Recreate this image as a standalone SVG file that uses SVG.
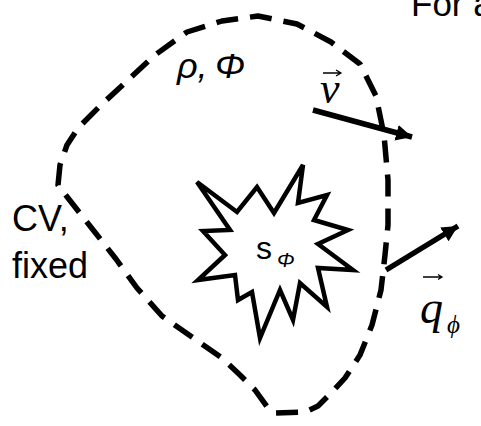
<svg xmlns="http://www.w3.org/2000/svg" width="481" height="426" viewBox="0 0 481 426">
<style>
.sans{font-family:"Liberation Sans",Arial,sans-serif;fill:#000}
.serif{font-family:"Liberation Serif","Times New Roman",serif;font-style:italic;fill:#000}
.cv{fill:none;stroke:#000;stroke-width:5.5;stroke-dasharray:22 12;stroke-linejoin:round}
.vec{fill:none;stroke:#000;stroke-width:5.5}
.small{fill:none;stroke:#000;stroke-width:1.3}
</style>
<defs>
<marker id="ah" markerUnits="userSpaceOnUse" markerWidth="20" markerHeight="20" refX="16" refY="8" orient="auto">
<path d="M0,0 L16,8 L0,16 Z" fill="#000"/>
</marker>
</defs>
<rect width="481" height="426" fill="#fff"/>
<g id="title"><text class="sans" x="411" y="16" font-size="35">For a</text></g>
<g id="cv">
<path class="cv" d="M58,185 L60,165 L67,145 L78,128 L100,106 L128,80 L155,55 L187,32 L222,21 L258,16 L297,24 L331,42 L360,64 L376,96 L384,135 L388,180 L388,225 L385,255 L381,290 L372,325 L360,355 L345,378 L332,392 L318,406 L305,412 L275,413 L268,408 L255,390 L240,375 L222,358 L192,337 L162,316 L137,288 L116,259 L90,226 L68,198 Z"/>
</g>
<g id="cv-label">
<text class="sans" x="12" y="231" font-size="36">CV,</text>
<text class="sans" x="12" y="278" font-size="36">fixed</text>
</g>
<g id="rho-phi">
<text class="sans" x="177" y="78" font-size="36" font-style="italic">ρ,</text>
<text class="sans" x="215" y="78" font-size="36" font-style="italic">Φ</text>
</g>
<g id="source">
<polygon points="197,182 237,212 257,187 274,213 303,165 298,203 327,195 314,220 348,230 318,244 353,270 318,268 327,307 300,283 293,320 280,290 260,338 252,292 238,300 235,275 198,280 225,255 203,231 230,230" fill="#fff" stroke="#000" stroke-width="4.5" stroke-linejoin="miter"/>
<text class="sans" x="256" y="259" font-size="32">s</text>
<text class="sans" x="277" y="267" font-size="21" font-style="italic">Φ</text>
</g>
<g id="connectors">
<line class="vec" x1="313" y1="110" x2="412" y2="137" marker-end="url(#ah)"/>
<line class="vec" x1="386" y1="270" x2="458" y2="226" marker-end="url(#ah)"/>
</g>
<g id="v-label">
<text class="serif" x="320" y="103" font-size="44">v</text>
<path class="small" d="M323,73 L341,73 M336,70 L341,73 L336,76"/>
</g>
<g id="q-label">
<text class="serif" x="420" y="323" font-size="46">q</text>
<text class="serif" x="447" y="333" font-size="25">ϕ</text>
<path class="small" d="M423,277 L442,277 M438,274.5 L442,277 L438,279.5"/>
</g>
</svg>
